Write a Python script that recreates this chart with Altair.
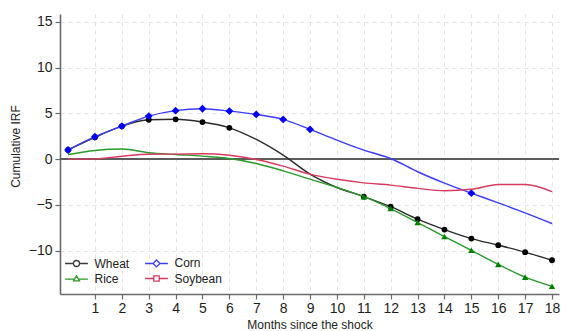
import altair as alt
import pandas as pd

# Cumulative impulse responses by month since the shock
months = list(range(19))
wheat = [1.0, 2.38, 3.6, 4.3, 4.35, 4.05, 3.42, 2.15, 0.44, -1.64, -3.1,
         -4.1, -5.2, -6.56, -7.7, -8.68, -9.4, -10.17, -11.05]
rice = [0.5, 0.95, 1.1, 0.7, 0.5, 0.33, 0.07, -0.48, -1.28, -2.19, -3.1,
        -4.1, -5.4, -6.93, -8.46, -9.96, -11.5, -12.9, -13.9]
corn = [1.0, 2.45, 3.6, 4.7, 5.3, 5.5, 5.25, 4.89, 4.34, 3.25, 2.08,
        0.98, 0.07, -1.38, -2.62, -3.72, -4.78, -5.87, -7.04]
soybean = [0.0, 0.03, 0.32, 0.54, 0.55, 0.58, 0.42, -0.04, -0.77, -1.64, -2.2,
           -2.59, -2.84, -3.2, -3.45, -3.3, -2.77, -2.77, -3.55]

# months at which a marker is shown for each series
wheat_marked = [0, 1, 2, 3, 4, 5, 6, 11, 12, 13, 14, 15, 16, 17, 18]
rice_marked = [11, 12, 13, 14, 15, 16, 17, 18]
corn_marked = [0, 1, 2, 3, 4, 5, 6, 7, 8, 9, 15]
soybean_marked = []

series_names = ["Wheat", "Rice", "Corn", "Soybean"]
series_values = [wheat, rice, corn, soybean]
series_marked = [wheat_marked, rice_marked, corn_marked, soybean_marked]
line_colors = ["#2b2b2b", "#2a9a2a", "#3c3cff", "#d83a60"]
marker_colors = ["#000000", "#008000", "#0000ff", "#d8315b"]
marker_shapes = ["circle", "triangle-up", "diamond", "square"]
marker_sizes = [34, 42, 62, 36]

# legend entries (filled column by column): hollow symbol with a short line through it
legend_order = ["Wheat", "Rice", "Corn", "Soybean"]
legend_colors = ["#3a3a3a", "#2a9a2a", "#3c3cff", "#d83a60"]
legend_paths = [
    "M-3.8,0H-1M1,0H3.8M-1,0A1,1,0,1,1,1,0A1,1,0,1,1,-1,0Z",
    "M-3.8,0.2H-0.6M0.6,0.2H3.8M0,-0.9L1,0.8L-1,0.8Z",
    "M-3.8,0H-1.15M1.15,0H3.8M0,-1.15L1.15,0L0,1.15L-1.15,0Z",
    "M-3.8,0H-0.9M0.9,0H3.8M-0.9,-0.9H0.9V0.9H-0.9Z",
]

x_domain = [-0.3, 18.26]
y_domain = [-14.74, 15.86]
x_ticks = list(range(1, 19))
y_ticks = [-10, -5, 0, 5, 10, 15]

FONT = "Liberation Sans"

axis_common = dict(
    domainColor="#6b6b6b", domainWidth=1.6,
    tickColor="#6b6b6b", tickWidth=1.2, tickSize=5,
    labelFont=FONT, labelFontSize=14, labelColor="#1e1e1e",
    grid=True, gridColor="#e4e4e4", gridDash=[4, 4], gridWidth=1,
    titleFont=FONT, titleFontSize=12, titleFontWeight="normal", titleColor="#222222",
    labelFlush=False,
)

X = alt.X(
    "month:Q",
    scale=alt.Scale(domain=x_domain, nice=False, zero=False),
    axis=alt.Axis(values=x_ticks, title="Months since the shock",
                  labelPadding=2, titlePadding=4, **axis_common),
)
Y = alt.Y(
    "value:Q",
    scale=alt.Scale(domain=y_domain, nice=False, zero=False),
    axis=alt.Axis(values=y_ticks, title="Cumulative IRF",
                  labelPadding=3, titleX=-38, titleY=132, **axis_common),
)

zero_line = alt.Chart(pd.DataFrame({"value": [0]})).mark_rule(
    color="#5c5c5c", strokeWidth=2
).encode(y=Y)

layers = [zero_line]
for name, vals, marked, lc, mc, shp, sz in zip(
    series_names, series_values, series_marked,
    line_colors, marker_colors, marker_shapes, marker_sizes
):
    df = pd.DataFrame({"month": months, "value": vals, "series": name})
    line = alt.Chart(df).mark_line(
        color=lc, strokeWidth=1.4, interpolate="monotone"
    ).encode(x=X, y=Y)
    layers.append(line)
    if marked:
        pts_df = df[df["month"].isin(marked)]
        pts = alt.Chart(pts_df).mark_point(
            filled=True, opacity=1, color=mc, shape=shp, size=sz
        ).encode(x=X, y=Y)
        layers.append(pts)

legend = alt.Legend(
    title=None, orient="none", legendX=10.5, legendY=243, columns=2,
    symbolSize=36, symbolStrokeWidth=1.3, symbolOpacity=1,
    symbolFillColor="transparent",
    labelFont=FONT, labelFontSize=12, labelColor="#222222",
    labelOffset=12, columnPadding=13, rowPadding=2.5, padding=0,
)
legend_df = pd.DataFrame({"label": legend_order, "month": [0] * 4, "value": [0] * 4})
legend_layer = alt.Chart(legend_df).mark_point(filled=False, opacity=0).encode(
    x=X, y=Y,
    color=alt.Color("label:N", scale=alt.Scale(domain=legend_order, range=legend_colors),
                    legend=legend),
    shape=alt.Shape("label:N", scale=alt.Scale(domain=legend_order, range=legend_paths),
                    legend=legend),
)
layers.append(legend_layer)

chart = alt.layer(*layers).properties(
    width=499, height=280,
    autosize=alt.AutoSizeParams(type="none"),
    padding={"left": 60, "top": 14, "right": 2, "bottom": 37},
    background="white",
).configure_view(stroke=None)

chart.save("out.html", embed_options={"renderer": "svg", "actions": False})
